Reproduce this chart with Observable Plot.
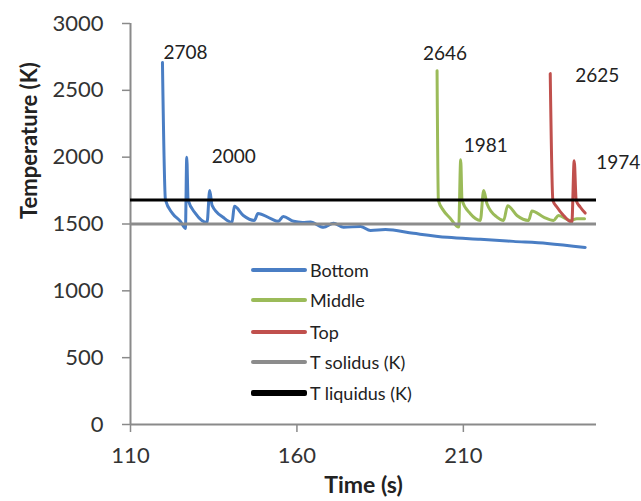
<!DOCTYPE html>
<html>
<head>
<meta charset="utf-8">
<script src="https://cdn.jsdelivr.net/npm/d3@7"></script>
<script src="https://cdn.jsdelivr.net/npm/@observablehq/plot@0.6"></script>
<style>
  html, body { margin: 0; padding: 0; background: #fff; }
  #wrap { position: relative; width: 641px; height: 501px; font-family: Lato, "Open Sans", sans-serif; }
  .leg { position: absolute; left: 251px; height: 20px; display: flex; align-items: center; font-size: 18px; color: #222; }
  .leg span.ln { display: inline-block; width: 56px; margin-right: 3px; border-radius: 2px; }
</style>
</head>
<body>
<div id="wrap"></div>
<script>
// ---- Data ----
const seriesNames = ["Bottom", "Middle", "Top", "T solidus (K)", "T liquidus (K)"];

const bottomTime = [119.6, 120.5, 122.6, 125.0, 126.5, 126.9, 127.3, 129.5, 133.0, 133.8, 134.5, 137.9, 140.5, 141.2, 143.9, 147.2, 148.3, 152.0, 154.4, 155.9, 159.0, 161.7, 164.1, 168.0, 171.0, 174.0, 179.1, 182.1, 186.6, 195.0, 205.2, 215.1, 225.0, 235.2, 246.6];
const bottomTemp = [2708, 1680, 1580, 1520, 1467, 2000, 1680, 1580, 1512, 1751, 1640, 1549, 1512, 1632, 1564, 1527, 1579, 1542, 1520, 1557, 1520, 1512, 1515, 1475, 1505, 1475, 1482, 1452, 1458, 1430, 1400, 1385, 1370, 1355, 1325];

const middleTime = [202.1, 202.5, 204.0, 206.1, 208.6, 209.2, 209.6, 212.1, 215.1, 216.1, 217.1, 220.1, 222.1, 223.3, 226.1, 229.6, 230.6, 234.1, 237.1, 238.6, 242.1, 244.1, 246.4];
const middleTemp = [2646, 1677, 1602, 1542, 1477, 1981, 1677, 1577, 1527, 1751, 1652, 1552, 1527, 1637, 1564, 1527, 1597, 1552, 1527, 1564, 1527, 1540, 1540];

const topTime = [236.1, 236.9, 238.1, 240.1, 242.6, 243.3, 243.9, 245.1, 246.6];
const topTemp = [2625, 1677, 1627, 1564, 1515, 1974, 1677, 1627, 1582];

const solidusTemp = 1500;
const liquidusTemp = 1680;

const peakLabels = [
  {series: "Bottom", value: 2708},
  {series: "Bottom", value: 2000},
  {series: "Middle", value: 2646},
  {series: "Middle", value: 1981},
  {series: "Top", value: 2625},
  {series: "Top", value: 1974}
];

const xTicks = [110, 160, 210];
const yTicks = [0, 500, 1000, 1500, 2000, 2500, 3000];

// ---- Build tables ----
const rows = [];
bottomTime.forEach((t, i) => rows.push({series: "Bottom", t, T: bottomTemp[i]}));
middleTime.forEach((t, i) => rows.push({series: "Middle", t, T: middleTemp[i]}));
topTime.forEach((t, i) => rows.push({series: "Top", t, T: topTemp[i]}));

const colors = {
  "Bottom": "#4a7ec4",
  "Middle": "#9bbb59",
  "Top": "#c0504d",
  "T solidus (K)": "#8c8c8c",
  "T liquidus (K)": "#000000"
};

// label offsets (styling, in pixels)
const labelOffsets = {2708: [1, -10], 2000: [25, 0], 2646: [-14, -17], 1981: [3, -14], 2625: [25, 2], 1974: [22, 2]};
const labelRows = peakLabels.map(d => {
  const p = rows.find(r => r.series === d.series && r.T === d.value);
  return {...p, label: String(d.value), dx: labelOffsets[d.value][0], dy: labelOffsets[d.value][1]};
});

const axisColor = "#8a8a8a";
const textColor = "#333";

const chart = Plot.plot({
  width: 641,
  height: 501,
  marginLeft: 130,
  marginRight: 45,
  marginTop: 23,
  marginBottom: 77,
  style: {fontFamily: "Lato, 'Open Sans', sans-serif", fontSize: "22px", color: textColor, background: "#fff"},
  x: {domain: [110, 250]},
  y: {domain: [0, 3000]},
  marks: [
    Plot.axisY({ticks: yTicks, tickFormat: d => String(d), tickSize: 8, tickPadding: 19, label: null, stroke: axisColor, strokeWidth: 1.5, fill: textColor, fontSize: 22}),
    Plot.axisX({ticks: xTicks, tickFormat: d => String(d), tickSize: 8, tickPadding: 15, label: null, stroke: axisColor, strokeWidth: 1.5, fill: textColor, fontSize: 22}),
    Plot.ruleX([110], {stroke: axisColor, strokeWidth: 2}),
    Plot.ruleY([0], {stroke: axisColor, strokeWidth: 2}),
    ...["Bottom", "Middle", "Top"].map(s =>
      Plot.line(rows.filter(r => r.series === s), {x: "t", y: "T", stroke: colors[s], strokeWidth: 3, strokeLinejoin: "round", curve: "monotone-x"})
    ),
    Plot.ruleY([solidusTemp], {stroke: colors["T solidus (K)"], strokeWidth: 3}),
    Plot.ruleY([liquidusTemp], {stroke: colors["T liquidus (K)"], strokeWidth: 3}),
    ...labelRows.map(d =>
      Plot.text([d], {x: "t", y: "T", text: "label", textAnchor: "start", lineAnchor: "middle", dx: d.dx, dy: d.dy, fontSize: 19, fill: "#222"})
    ),
    Plot.text(["Temperature (K)"], {frameAnchor: "left", dx: -101, dy: -5, rotate: -90, fontSize: 22, fontWeight: "bold", fill: "#222"}),
    Plot.text(["Time (s)"], {frameAnchor: "bottom", dy: 61, lineAnchor: "middle", fontSize: 23, fontWeight: "bold", fill: "#222"})
  ]
});

const wrap = document.getElementById("wrap");
wrap.appendChild(chart);

// legend (HTML overlay inside the plot area)
const legendTops = [260, 290, 322, 352, 383];
seriesNames.forEach((name, i) => {
  const div = document.createElement("div");
  div.className = "leg";
  div.style.top = legendTops[i] + "px";
  const ln = document.createElement("span");
  ln.className = "ln";
  ln.style.height = (name === "T liquidus (K)" ? 6 : 4) + "px";
  ln.style.background = colors[name];
  const tx = document.createElement("span");
  tx.textContent = name;
  div.appendChild(ln);
  div.appendChild(tx);
  wrap.appendChild(div);
});
</script>
</body>
</html>
